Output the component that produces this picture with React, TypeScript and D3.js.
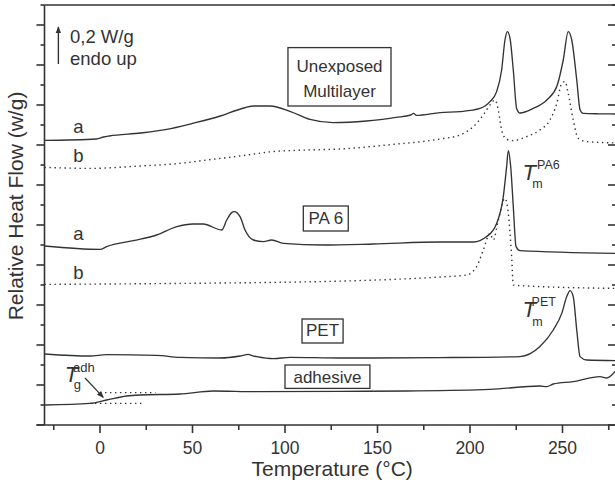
import React from 'react';
import * as d3 from 'd3';

const W = 615;
const H = 491;

// Temperature (°C), relative heat flow (arbitrary units; 1 unit = one minor tick)
const multilayerA: [number, number][] = [
  [-30, 14.23], [-2, 14.3], [2, 14.4], [5, 14.45], [22, 14.6], [36, 14.78], [50, 15.08], [65, 15.45],
  [76, 15.8], [83, 15.95], [92, 15.95], [103, 15.67], [113.5, 15.28], [126, 15.12], [144, 15.2],
  [160, 15.38], [168, 15.5], [169.5, 15.58], [171, 15.48], [184, 15.62], [194.6, 15.67], [205.4, 15.83],
  [210.8, 16.17], [214.4, 16.67], [217.1, 17.75], [218.9, 19.25], [220.2, 19.67], [221.6, 19.35],
  [223.4, 17.75], [225.2, 15.83], [227, 15.6], [234.2, 15.83], [241.5, 16.25], [246.9, 16.92],
  [250.4, 18.25], [253.1, 19.67], [255, 19.25], [257.7, 17.25], [259.5, 15.75], [261.2, 15.58],
  [270, 15.56], [280, 15.55],
];
const multilayerB: [number, number][] = [
  [-30, 12.88], [-5, 12.83], [21.6, 12.95], [43.2, 13.08], [57.7, 13.25], [75.7, 13.45], [93.5, 13.67],
  [111.9, 13.75], [130, 13.8], [155, 14.0], [183.8, 14.3], [194.6, 14.5], [201.8, 14.92], [207.2, 15.5],
  [210.8, 16.0], [213.5, 16.25], [215.3, 15.75], [217.1, 14.75], [219.8, 14.28], [223.2, 14.22],
  [230.6, 14.42], [237.8, 14.75], [243.2, 15.25], [246.9, 16.08], [249.6, 17.08], [251.4, 17.17],
  [253.1, 16.58], [255.8, 15.25], [258.5, 14.33], [263.1, 14.17], [280, 14.1],
];
const pa6A: [number, number][] = [
  [-30, 8.95], [0, 8.78], [3.6, 8.92], [18, 9.22], [30.6, 9.5], [41.5, 9.92], [50.4, 10.05], [55.8, 10.05],
  [65.8, 9.75], [68.5, 10.25], [71.2, 10.62], [72.5, 10.67], [75.7, 10.42], [78.4, 9.75], [82.9, 9.25],
  [88.3, 9.17], [92.8, 9.25], [99.1, 9.08], [120.7, 9.0], [147.7, 9.05], [183.8, 9.15], [201.8, 9.15],
  [209, 9.42], [214.4, 10.08], [218, 11.42], [219.8, 12.92], [220.7, 13.72], [222, 12.92], [223.4, 10.92],
  [224.9, 8.92], [227, 8.72], [280, 8.58],
];
const pa6B: [number, number][] = [
  [-30, 7.03], [66, 7.1], [108, 7.15], [150, 7.25], [183.8, 7.4], [198.2, 7.5], [203.6, 7.92], [207.2, 8.75],
  [210.8, 9.58], [212.6, 9.25], [215.3, 10.25], [218.9, 11.33], [220.7, 10.58], [222.5, 8.42], [223.4, 7.0],
  [230.6, 6.95], [280, 6.83],
];
const pet: [number, number][] = [
  [-30, 3.55], [-5.4, 3.45], [3.6, 3.52], [30.6, 3.48], [43.2, 3.38], [64.9, 3.35], [75.7, 3.45], [80.2, 3.53],
  [82.2, 3.47], [84.7, 3.42], [93.7, 3.32], [102.7, 3.38], [129.7, 3.35], [183.8, 3.37], [227, 3.42],
  [237.8, 3.92], [245, 4.75], [249.6, 5.58], [252.3, 6.42], [254.1, 6.72], [255.8, 6.42], [257.7, 4.75],
  [259.5, 3.42], [263.1, 3.25], [280, 3.22],
];
const adhesive: [number, number][] = [
  [-30, 1.0], [-5.4, 1.08], [3.6, 1.25], [14.4, 1.45], [21.6, 1.5], [43.2, 1.55], [61.2, 1.7], [84.7, 1.67],
  [129.7, 1.68], [165.8, 1.7], [210.8, 1.78], [237.8, 1.95], [241.5, 1.92], [245, 2.05], [255.8, 2.17],
  [270.3, 2.42], [273.9, 2.35], [276.6, 2.5], [278.4, 2.67], [280, 2.8],
];
const tgUpper: [number, number][] = [[0, 1.62], [30, 1.62]];
const tgLower: [number, number][] = [[-5.4, 1.08], [22.5, 1.08]];

const xMajorTicks = [0, 50, 100, 150, 200, 250];
const xMinorTicks = [-25, 25, 75, 125, 175, 225, 275];
const yMajorTicks = [0, 2, 4, 6, 8, 10, 12, 14, 16, 18, 20];
const yMinorTicks = [1, 3, 5, 7, 9, 11, 13, 15, 17, 19, 21];

const xTitle = 'Temperature (°C)';
const yTitle = 'Relative Heat Flow (w/g)';

const FONT = "'Liberation Sans', Arial, Helvetica, sans-serif";
const INK = '#333';

export default function App() {
  const x = d3.scaleLinear().domain([-30, 280]).range([44.5, 618]);
  const y = d3.scaleLinear().domain([0, 21]).range([425, 5]);
  const line = d3
    .line<[number, number]>()
    .x((d) => x(d[0]))
    .y((d) => y(d[1]))
    .curve(d3.curveMonotoneX);

  const x0 = x(-30);
  const x1 = x(280);
  const yb = y(0);
  const yt = y(21);

  const solid = { fill: 'none', stroke: INK, strokeWidth: 1.35 };
  const dotted = { fill: 'none', stroke: INK, strokeWidth: 1.4, strokeDasharray: '1.4 3.6' };

  const box = (t0: number, t1: number, v0: number, v1: number) => (
    <rect x={x(t0)} y={y(v1)} width={x(t1) - x(t0)} height={y(v0) - y(v1)} fill="#fff" stroke={INK} strokeWidth={1.3} />
  );

  // T with superscript and subscript as one text element
  const tLabel = (t: number, v: number, sup: string, sub: string, supT: number, subT: number, supDy: number, subDy: number, small: number) => (
    <text x={x(t)} y={y(v)} fill={INK}>
      <tspan fontSize={22} fontStyle="italic">T</tspan>
      <tspan x={x(supT)} dy={supDy} fontSize={small}>{sup}</tspan>
      <tspan x={x(subT)} dy={subDy} fontSize={small}>{sub}</tspan>
    </text>
  );

  return (
    <svg width={W} height={H} style={{ position: 'absolute', left: 0, top: 0, background: '#fff' }} fontFamily={FONT}>
      <defs>
        <clipPath id="plot">
          <rect x={x0} y={yt} width={x1 - x0} height={yb - yt} />
        </clipPath>
        <marker id="ah" viewBox="0 0 10 10" refX="9" refY="5" markerWidth="7" markerHeight="7" orient="auto" markerUnits="userSpaceOnUse">
          <path d="M0,1 L10,5 L0,9 z" fill={INK} />
        </marker>
      </defs>

      {/* curves */}
      <g clipPath="url(#plot)">
        <path d={line(multilayerA) || ''} {...solid} />
        <path d={line(multilayerB) || ''} {...dotted} />
        <path d={line(pa6A) || ''} {...solid} />
        <path d={line(pa6B) || ''} {...dotted} />
        <path d={line(pet) || ''} {...solid} />
        <path d={line(adhesive) || ''} {...solid} />
        <path d={line(tgUpper) || ''} {...dotted} />
        <path d={line(tgLower) || ''} {...dotted} />
      </g>

      {/* axes frame */}
      <g stroke={INK} strokeWidth={1.6} fill="none">
        <line x1={x0} x2={x0} y1={yt} y2={yb} />
        <line x1={x0 - 8} x2={x1} y1={yb} y2={yb} />
        <line x1={x0} x2={x1} y1={yt} y2={yt} />
        <line x1={x1} x2={x1} y1={yt} y2={yb} />
        {xMajorTicks.map((t) => (
          <line key={'xM' + t} x1={x(t)} x2={x(t)} y1={yb} y2={yb + 8} />
        ))}
        {xMinorTicks.map((t) => (
          <line key={'xm' + t} x1={x(t)} x2={x(t)} y1={yb} y2={yb + 5} />
        ))}
        {yMajorTicks.map((v) => (
          <line key={'yM' + v} x1={x0 - 8} x2={x0} y1={y(v)} y2={y(v)} />
        ))}
        {yMinorTicks.map((v) => (
          <line key={'ym' + v} x1={x0 - 4} x2={x0} y1={y(v)} y2={y(v)} />
        ))}
        {yMajorTicks.map((v) => (
          <line key={'rM' + v} x1={x1 - 10} x2={x1} y1={y(v)} y2={y(v)} />
        ))}
        {yMinorTicks.map((v) => (
          <line key={'rm' + v} x1={x1 - 6} x2={x1} y1={y(v)} y2={y(v)} />
        ))}
      </g>

      {/* tick labels */}
      <g fill={INK} fontSize={17.5} textAnchor="middle">
        {xMajorTicks.map((t) => (
          <text key={'xl' + t} x={x(t)} y={yb + 28.5}>{t}</text>
        ))}
      </g>
      <text x={x(125.5)} y={476} fontSize={21} fill={INK} textAnchor="middle">{xTitle}</text>
      <text transform={`translate(23, ${y(10.95)}) rotate(-90)`} fontSize={21} fill={INK} textAnchor="middle">{yTitle}</text>

      {/* scale arrow */}
      <line x1={x(-22.5)} x2={x(-22.5)} y1={y(18.05)} y2={y(19.9)} stroke={INK} strokeWidth={1.4} markerEnd="url(#ah)" />
      <text x={x(-16.2)} y={y(19.08)} fontSize={18.5} fill={INK}>0,2 W/g</text>
      <text x={x(-16.2)} y={y(18.0)} fontSize={18.5} fill={INK}>endo up</text>

      {/* curve letters */}
      <g fill={INK} fontSize={18.5} textAnchor="middle">
        <text x={x(-11.7)} y={y(14.6)}>a</text>
        <text x={x(-11.7)} y={y(13.15)}>b</text>
        <text x={x(-11.7)} y={y(9.25)}>a</text>
        <text x={x(-11.7)} y={y(7.3)}>b</text>
      </g>

      {/* boxes */}
      {box(101.6, 157.3, 15.95, 18.87)}
      <text x={x(129.5)} y={y(17.65)} fontSize={17} fill={INK} textAnchor="middle">Unexposed</text>
      <text x={x(129.5)} y={y(16.4)} fontSize={17} fill={INK} textAnchor="middle">Multilayer</text>
      {box(109.9, 134.2, 9.7, 10.95)}
      <text x={x(122.05)} y={y(10.03)} fontSize={17} fill={INK} textAnchor="middle">PA 6</text>
      {box(109.2, 131.4, 4.1, 5.3)}
      <text x={x(120.3)} y={y(4.43)} fontSize={17} fill={INK} textAnchor="middle">PET</text>
      {box(100, 145.9, 1.83, 3.0)}
      <text x={x(122.95)} y={y(2.1)} fontSize={17} fill={INK} textAnchor="middle">adhesive</text>

      {/* T annotations */}
      {tLabel(228.4, 12.25, 'PA6', 'm', 236.2, 233.6, -11, 19, 12.5)}
      {tLabel(228.4, 5.4, 'PET', 'm', 233.3, 233.6, -11, 20, 12.5)}
      {tLabel(-19, 2.17, 'adh', 'g', -14.6, -14.2, -10, 17.4, 13)}
      <line x1={x(-8.1)} y1={y(2.35)} x2={x(1.8)} y2={y(1.38)} stroke={INK} strokeWidth={1.2} markerEnd="url(#ah)" />
    </svg>
  );
}
